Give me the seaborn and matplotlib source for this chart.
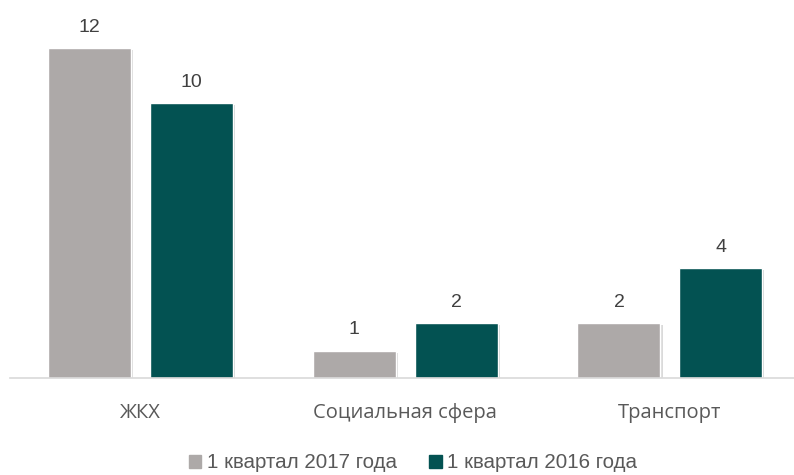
import pandas as pd
import matplotlib.pyplot as plt
import matplotlib.patheffects as pe
import seaborn as sns

# Данные
categories = ['ЖКХ', 'Социальная сфера', 'Транспорт']
series_names = ['1 квартал 2017 года', '1 квартал 2016 года']
values_2017 = [12, 1, 2]
values_2016 = [10, 2, 4]
colors = ['#ADA9A8', '#035252']

df = pd.DataFrame({
    'Категория': categories * 2,
    'Период': [series_names[0]] * 3 + [series_names[1]] * 3,
    'Значение': values_2017 + values_2016,
})

sns.set_theme(style='white')
narrow = ['Liberation Sans', 'DejaVu Sans']

fig = plt.figure(figsize=(7.94, 4.75), dpi=100)
ax = fig.add_axes([10 / 794, 97 / 475, 784 / 794, 378 / 475])

sns.barplot(data=df, x='Категория', y='Значение', hue='Период',
            palette=colors, saturation=1, width=0.77, gap=0.185,
            ax=ax, legend=False)

# лёгкая тень у столбцов
for p in ax.patches:
    p.set_path_effects([pe.SimplePatchShadow(offset=(1.5, -1.5), alpha=0.18),
                        pe.Normal()])

for cont in ax.containers:
    ax.bar_label(cont, padding=9, fontsize=14, color='#404040', family=narrow)

ax.set_xlim(-0.494, 2.469)
ax.set_ylim(0, 13.75)
ax.set_xlabel('')
ax.set_ylabel('')
ax.set_yticks([])
ax.tick_params(axis='x', length=0, pad=18)
for lab in ax.get_xticklabels():
    lab.set_fontfamily(['Open Sans', 'DejaVu Sans'])
    lab.set_fontsize(14.5)
    lab.set_color('#595959')

for side in ['top', 'right', 'left']:
    ax.spines[side].set_visible(False)
ax.spines['bottom'].set_color('#D9D9D9')
ax.spines['bottom'].set_linewidth(1.2)

handles = [plt.Rectangle((0, 0), 1, 1, color=c) for c in colors]
fig.legend(handles, series_names, loc='center',
           bbox_to_anchor=(413 / 794, 12 / 475),
           ncol=2, frameon=False, handlelength=0.6, handleheight=0.6,
           handletextpad=0.25, columnspacing=1.6,
           prop={'family': narrow, 'size': 14.8}, labelcolor='#595959')

fig.savefig('out.png', dpi=100)
